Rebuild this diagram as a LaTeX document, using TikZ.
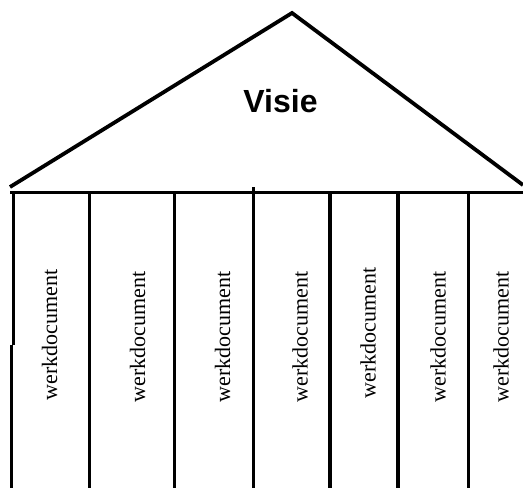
\documentclass[tikz,border=0pt]{standalone}
\usepackage{fontspec}
\setmainfont{Liberation Serif}
\newfontfamily\visiefont{Liberation Sans}
\begin{document}
\begin{tikzpicture}[x=1pt,y=-1pt,
  roofline/.style={line width=3.8pt,line join=miter},
  pillar/.style={line width=3.2pt},
  pillartext/.style={rotate=90,inner sep=0pt,font=\fontsize{22}{22}\selectfont},
  titletext/.style={inner sep=0pt,anchor=base,font=\visiefont\bfseries\fontsize{32}{32}\selectfont}]
\useasboundingbox (0,0) rectangle (523,488);
\coordinate (apex) at (292,13);
\coordinate (left) at (10,187);
\coordinate (right) at (523,185);
\coordinate (bl) at (10,192.5);
\coordinate (br) at (523,192.5);
\draw[roofline] (left) -- (apex) -- (right);
\draw[roofline] (bl) -- (br);
\node[titletext] (visie) at (280.5,112) {Visie};
% left pillar with its small jog
\coordinate (top1) at (13.3,192);
\coordinate (mid1a) at (13.3,345);
\coordinate (mid1b) at (11.7,345);
\coordinate (bot1) at (11.7,490);
\draw[pillar] (top1) -- (mid1a);
\draw[pillar] (mid1b) -- (bot1);
\foreach \i/\px/\py in {2/89.5/192,3/174.5/192,4/253.5/187,5/330/192,6/398/192,7/468.5/192}{
  \coordinate (top\i) at (\px,\py);
  \coordinate (bot\i) at (\px,490);
  \draw[pillar] (top\i) -- (bot\i);
}
\foreach \i/\px/\py in {1/49.5/335,2/137.5/337,3/222.5/337,4/300/337,5/368/333,6/438/337,7/501/337}{
  \node[pillartext] (wd\i) at (\px,\py) {werkdocument};
}
\end{tikzpicture}
\end{document}
